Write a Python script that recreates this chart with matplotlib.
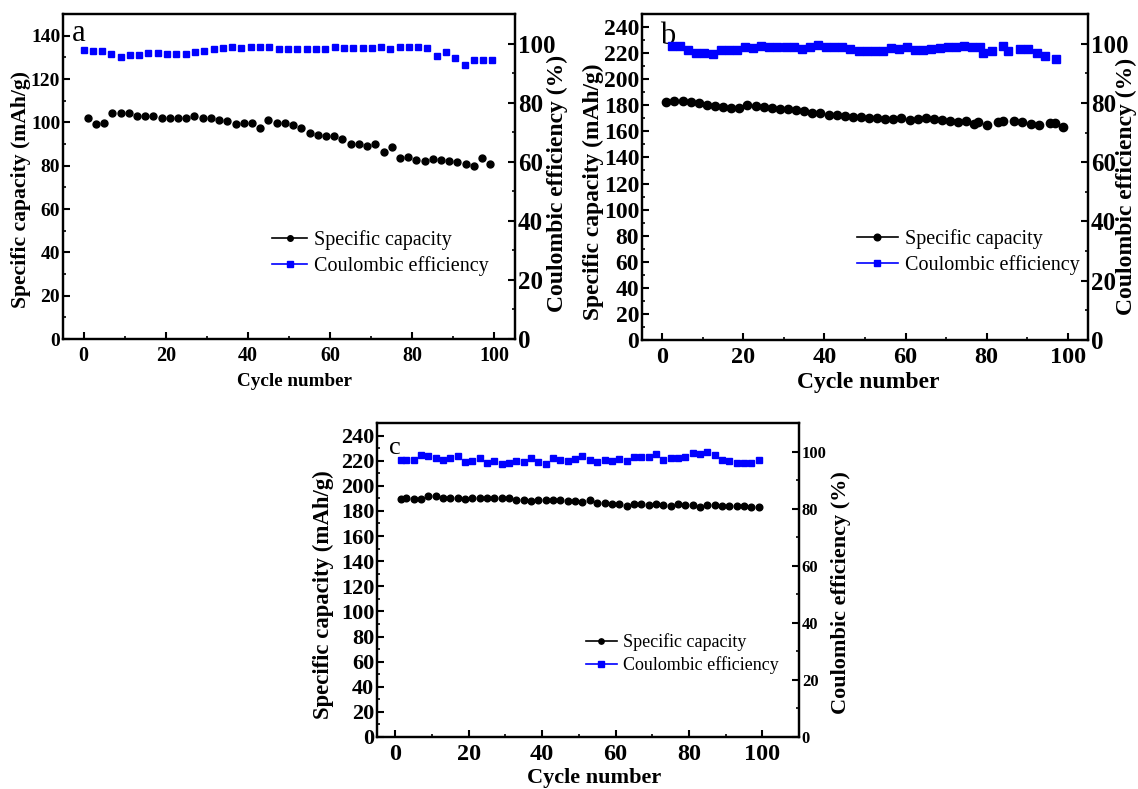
import matplotlib
matplotlib.use("Agg")
import matplotlib.pyplot as plt
from matplotlib.lines import Line2D
from matplotlib.ticker import MultipleLocator

plt.rcParams['font.family'] = ['Liberation Serif', 'DejaVu Serif']

# ---- panel a ----
a_cap_cycle = [1, 3, 5, 7, 9, 11, 13, 15, 17, 19, 21, 23, 25, 27, 29, 31, 33, 35, 37, 39,
               41, 43, 45, 47, 49, 51, 53, 55, 57, 59, 61, 63, 65, 67, 69, 71, 73, 75, 77, 79,
               81, 83, 85, 87, 89, 91, 93, 95, 97, 99]
a_cap = [102.1, 99.3, 99.5, 104.1, 104.4, 104.1, 102.9, 102.9, 102.9, 101.9,
         102.1, 102.1, 102.2, 102.7, 102.2, 102.2, 101.0, 100.6, 99.0, 99.6,
         99.6, 97.6, 101.2, 99.6, 99.5, 98.6, 97.3, 94.9, 94.3, 93.8,
         93.5, 92.4, 90.0, 90.0, 89.2, 89.8, 86.1, 88.6, 83.5, 83.8,
         82.4, 82.3, 82.9, 82.7, 82.0, 81.5, 80.9, 80.0, 83.5, 80.9]
a_ce_cycle = [0, 2.26, 4.5, 6.8, 9.0, 11.3, 13.6, 15.8, 18.1, 20.3, 22.6, 24.9, 27.1, 29.4, 31.7,
              33.9, 36.2, 38.4, 40.7, 43.0, 45.2, 47.5, 49.7, 52.0, 54.3, 56.5, 58.8, 61.1, 63.3,
              65.6, 67.9, 70.1, 72.4, 74.6, 76.9, 79.2, 81.4, 83.7, 86.0, 88.2, 90.5, 92.8, 95.0,
              97.3, 99.5]
a_ce = [97.9, 97.4, 97.5, 96.3, 95.5, 96.2, 96.0, 96.9, 96.8, 96.3, 96.4, 96.4, 97.0, 97.5, 98.2,
        98.4, 98.7, 98.6, 98.7, 98.7, 98.9, 98.2, 98.1, 98.1, 98.0, 98.2, 98.2, 98.8, 98.4,
        98.6, 98.5, 98.5, 98.8, 98.3, 98.8, 99.0, 98.9, 98.5, 95.9, 97.3, 95.2, 92.7, 94.4,
        94.4, 94.4]

# ---- panel b ----
b_cap_cycle = [1, 3, 5, 7, 9, 11, 13, 15, 17, 19, 21, 23, 25, 27, 29, 31, 33, 35, 37, 39,
               41, 43, 45, 47, 49, 51, 53, 55, 57, 59, 61, 63, 65, 67, 69, 71, 73, 75, 77, 77.8,
               80, 82.7, 84, 86.8, 88.8, 90.9, 92.9, 95.7, 96.8, 98.9]
b_cap = [182.3, 183.0, 183.0, 182.8, 182.0, 180.5, 179.2, 178.7, 178.2, 177.9,
         180.2, 179.7, 179.0, 177.9, 177.4, 177.4, 176.4, 175.4, 174.2, 174.2,
         172.8, 172.6, 171.6, 171.3, 170.8, 170.0, 170.5, 169.5, 169.5, 170.0,
         169.0, 169.5, 170.0, 169.8, 169.0, 168.0, 167.0, 168.0, 165.9, 167.0,
         165.2, 167.5, 167.7, 168.0, 167.0, 165.9, 165.2, 166.5, 166.2, 163.1]
b_ce_cycle = [2.4, 4.4, 6.4, 8.4, 10.4, 12.4, 14.4, 16.4, 18.4, 20.4, 22.4, 24.4, 26.4, 28.4,
              30.4, 32.4, 34.4, 36.4, 38.4, 40.4, 42.4, 44.4, 46.4, 48.4, 50.4, 52.4, 54.4,
              56.4, 58.4, 60.4, 62.4, 64.4, 66.4, 68.4, 70.4, 72.4, 74.4, 76.4, 78.4, 79.2,
              81.3, 84.0, 85.2, 88.2, 90.2, 92.3, 94.3, 97.1]
b_ce = [99.1, 99.1, 97.7, 97.0, 96.9, 96.6, 97.8, 97.8, 97.9, 98.7, 98.6, 99.2, 98.7, 98.7,
        98.7, 98.7, 98.3, 98.8, 99.6, 98.7, 98.7, 99.0, 98.2, 97.4, 97.4, 97.6, 97.4,
        98.6, 98.2, 98.8, 98.0, 98.0, 98.2, 98.6, 98.7, 98.7, 99.1, 98.8, 98.9, 96.7,
        97.6, 99.1, 97.4, 98.1, 98.3, 96.7, 95.8, 94.9]

# ---- panel c ----
c_cycle = [1.5, 3, 5, 7, 9, 11, 13, 15, 17, 19, 21, 23, 25, 27, 29, 31, 33, 35, 37, 39,
           41, 43, 45, 47, 49, 51, 53, 55, 57, 59, 61, 63, 65, 67, 69, 71, 73, 75, 77, 79,
           81, 83, 85, 87, 89, 91, 93, 95, 97, 99]
c_cap = [189.5, 190.0, 189.5, 189.8, 191.6, 191.6, 190.6, 190.6, 190.6, 189.5,
         190.0, 190.0, 190.0, 190.3, 190.0, 190.0, 189.0, 188.4, 187.9, 188.7,
         188.7, 188.4, 189.0, 187.6, 188.2, 187.1, 189.0, 186.3, 186.0, 185.2,
         185.2, 184.2, 185.8, 185.5, 185.0, 185.2, 185.0, 184.2, 185.2, 184.5,
         184.5, 183.4, 184.7, 184.5, 183.7, 184.2, 183.7, 183.7, 182.9, 183.4]
c_ce = [97.1, 97.1, 97.1, 98.9, 98.6, 97.7, 97.1, 97.7, 98.4, 96.5,
        96.7, 97.9, 96.1, 96.8, 95.8, 96.1, 96.7, 96.3, 97.8, 96.5,
        95.7, 97.8, 97.1, 96.8, 97.3, 98.6, 97.1, 96.3, 97.2, 96.8,
        97.5, 96.7, 98.2, 98.2, 98.2, 99.3, 97.2, 97.8, 97.9, 98.2,
        99.6, 99.0, 100.0, 98.9, 97.1, 96.8, 96.1, 96.1, 96.1, 97.0]

legend_labels = ['Specific capacity', 'Coulombic efficiency']
blue = '#0000ff'

W, H = 1138, 789
fig = plt.figure(figsize=(W / 100, H / 100), dpi=100)


def box(x0, y0, x1, y1):
    # pixel box (top-left origin) -> figure fraction
    return [x0 / W, 1 - y1 / H, (x1 - x0) / W, (y1 - y0) / H]


def panel(rect, cap_x, cap, ce_x, ce, ylim, xmax, letter, letter_xy, sizes, ms,
          leg_anchor, hlen, label_pos):
    tick_fs, lab_fs, rtick_fs, rlab_fs, leg_fs, let_fs, xtick_fs, xlab_fs = sizes
    xl_pos, yl_pos, yr_pos = label_pos
    ax = fig.add_axes(box(*rect))
    ax2 = ax.twinx()
    ax.plot(cap_x, cap, 'o', color='black', ms=ms[0], ls='none')
    ax2.plot(ce_x, ce, 's', color=blue, ms=ms[1], ls='none')
    ax.set_xlim(-5, xmax)
    ax.set_ylim(0, ylim)
    ax2.set_ylim(0, 110)
    ax.xaxis.set_major_locator(MultipleLocator(20))
    ax.xaxis.set_minor_locator(MultipleLocator(10))
    ax.yaxis.set_major_locator(MultipleLocator(20))
    ax.yaxis.set_minor_locator(MultipleLocator(10))
    ax2.yaxis.set_major_locator(MultipleLocator(20))
    ax2.yaxis.set_minor_locator(MultipleLocator(10))
    for a in (ax, ax2):
        for s in a.spines.values():
            s.set_linewidth(1.6)
    ax.tick_params(axis='both', which='major', direction='in', length=5, width=1.5, pad=2)
    ax.tick_params(axis='both', which='minor', direction='in', length=2.5, width=1.2)
    ax.tick_params(axis='x', labelsize=xtick_fs, pad=5)
    ax.tick_params(axis='y', labelsize=tick_fs)
    ax2.tick_params(axis='y', which='major', direction='in', length=5, width=1.5, pad=2,
                    labelsize=rtick_fs)
    ax2.tick_params(axis='y', which='minor', direction='in', length=2.5, width=1.2)
    for lab in ax.get_xticklabels() + ax.get_yticklabels() + ax2.get_yticklabels():
        lab.set_fontweight('bold')
    ax.set_xlabel('Cycle number', fontsize=xlab_fs, fontweight='bold')
    ax.set_ylabel('Specific capacity (mAh/g)', fontsize=lab_fs, fontweight='bold')
    ax2.set_ylabel('Coulombic efficiency (%)', fontsize=rlab_fs, fontweight='bold')
    ax.xaxis.set_label_coords(*xl_pos)
    ax.yaxis.set_label_coords(*yl_pos)
    ax2.yaxis.set_label_coords(*yr_pos)
    for lab in (ax.xaxis.label, ax.yaxis.label, ax2.yaxis.label):
        lab.set_verticalalignment('center')
        lab.set_horizontalalignment('center')
    ax.text(letter_xy[0], letter_xy[1], letter, transform=ax.transAxes,
            fontsize=let_fs, ha='left', va='center')
    handles = [Line2D([], [], color='black', marker='o', ms=ms[0] * 0.8, lw=1.2),
               Line2D([], [], color=blue, marker='s', ms=ms[1] * 0.8, lw=1.2)]
    ax.legend(handles, legend_labels, loc='center left', bbox_to_anchor=leg_anchor,
              frameon=False, fontsize=leg_fs, handlelength=hlen, handletextpad=0.35,
              labelspacing=0.3, numpoints=1, borderpad=0)
    return ax


panel((63, 14, 515, 339), a_cap_cycle, a_cap, a_ce_cycle, a_ce, 150, 105, 'a', (0.02, 0.94),
      (14, 15.6, 18, 17, 14.5, 22, 14.5, 13.8), (5, 5), (0.441, 0.265), 1.7,
      ((0.513, -0.132), (-0.093, 0.46), (1.093, 0.48)))
panel((642, 14, 1088, 340), b_cap_cycle, b_cap, b_ce_cycle, b_ce, 250, 105, 'b', (0.04, 0.93),
      (17, 16.9, 18, 17, 14.5, 22, 17.5, 17), (6, 5.5), (0.46, 0.271), 2.0,
      ((0.507, -0.129), (-0.108, 0.455), (1.087, 0.47)))
panel((377, 423, 799, 737), c_cycle, c_cap, c_cycle, c_ce, 250, 110, 'c', (0.028, 0.92),
      (16, 16.4, 12, 16, 13, 19, 17.5, 16), (4.8, 4.8), (0.474, 0.265), 1.7,
      ((0.514, -0.131), (-0.126, 0.455), (1.099, 0.46)))

fig.savefig('out.png', dpi=100)
